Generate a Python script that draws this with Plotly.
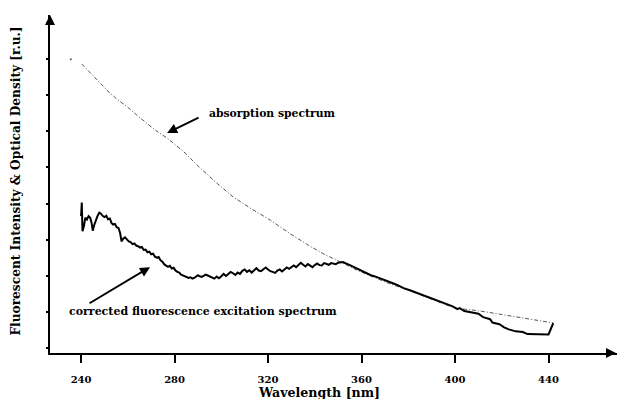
import plotly.graph_objects as go

# Absorption spectrum (optical density, relative units); None leaves the gap after the first dot
abs_wavelength = [235.6, None, 240.3, 245, 251, 255, 260, 264, 268, 272, 277, 284, 291, 298,
                  305, 313, 321, 329, 337, 344, 352, 358, 365, 372, 380, 387, 394, 400,
                  410, 419, 430, 442]
abs_density = [8.69, None, 8.55, 8.20, 7.78, 7.53, 7.27, 7.03, 6.80, 6.58, 6.35, 5.95, 5.47, 5.03,
               4.62, 4.26, 3.93, 3.55, 3.20, 2.92, 2.66, 2.45, 2.25, 2.05, 1.86, 1.66, 1.48, 1.33,
               1.25, 1.15, 1.02, 0.89]

# Corrected fluorescence excitation spectrum (relative units)
flu_wavelength = [240.0, 240.3, 240.6, 241.2, 241.8, 242.5, 243.2, 243.9, 244.5, 245.0,
                  245.6, 246.3, 247.0, 247.8, 248.5, 249.3, 250.0, 250.8, 251.5, 252.3,
                  253.0, 253.7, 254.5, 255.2, 256.0, 256.7, 257.3, 258.0, 258.8, 259.6,
                  260.4, 261.2, 262.0, 262.8, 263.6, 264.4, 265.2, 266.0, 266.8, 267.6,
                  268.4, 269.2, 270.0, 270.8, 271.6, 272.4, 273.2, 274.0, 274.8, 275.6,
                  276.4, 277.2, 278.0, 278.8, 279.6, 280.4, 281.2, 282.0, 282.8, 283.6,
                  284.4, 285.2, 286.0, 286.8, 287.6, 288.4, 289.2, 290.0, 290.8, 291.6,
                  292.4, 293.2, 294, 295, 296, 297, 298, 299, 300, 301, 302, 303, 304,
                  305, 306, 307, 308, 309, 310, 311, 312, 313, 314, 315, 316, 317, 318,
                  319, 320, 321, 322, 323, 324, 325, 326, 327, 328, 329, 330, 331, 332,
                  333, 334, 335, 336, 337, 338, 339, 340, 341, 342, 343, 344, 345, 346,
                  347, 348, 349, 350, 351, 352, 355, 358, 361, 364, 366, 369, 372, 375,
                  378, 381, 384, 387, 390, 393, 396, 399, 401, 402, 404, 407, 410, 412,
                  415, 416, 419, 421, 423, 426, 429, 431, 434, 437, 440, 442]
flu_intensity = [4.05, 4.45, 3.60, 3.75, 4.00, 3.95, 4.05, 4.00, 3.85, 3.62,
                 3.78, 3.95, 4.05, 4.15, 4.12, 4.05, 4.02, 4.06, 3.96, 3.98,
                 3.85, 3.80, 3.82, 3.72, 3.70, 3.55, 3.30, 3.38, 3.42, 3.36,
                 3.30, 3.28, 3.22, 3.24, 3.18, 3.16, 3.12, 3.14, 3.05, 3.06,
                 2.98, 3.00, 2.92, 2.94, 2.85, 2.82, 2.84, 2.74, 2.70, 2.62,
                 2.58, 2.55, 2.58, 2.50, 2.52, 2.44, 2.40, 2.38, 2.32, 2.30,
                 2.27, 2.26, 2.22, 2.24, 2.20, 2.22, 2.26, 2.30, 2.27, 2.25,
                 2.28, 2.32, 2.30, 2.26, 2.22, 2.20, 2.26, 2.21, 2.27, 2.34, 2.28, 2.35, 2.40,
                 2.36, 2.31, 2.38, 2.34, 2.43, 2.47, 2.40, 2.45, 2.38, 2.46, 2.51, 2.44, 2.42, 2.48,
                 2.53, 2.47, 2.42, 2.40, 2.37, 2.44, 2.47, 2.41, 2.48, 2.53, 2.49, 2.53, 2.59, 2.54,
                 2.61, 2.67, 2.61, 2.56, 2.63, 2.59, 2.54, 2.60, 2.65, 2.60, 2.59, 2.66, 2.63, 2.61,
                 2.66, 2.64, 2.63, 2.67, 2.68, 2.69, 2.60, 2.50, 2.42, 2.30, 2.26, 2.19, 2.10, 2.02,
                 1.92, 1.85, 1.77, 1.68, 1.60, 1.52, 1.44, 1.38, 1.30, 1.33, 1.24, 1.20, 1.16, 1.06,
                 1.00, 0.90, 0.85, 0.76, 0.70, 0.64, 0.62, 0.56, 0.55, 0.55, 0.55, 0.88]

x_ticks = [240, 280, 320, 360, 400, 440]

FONT = "DejaVu Serif"

fig = go.Figure()
fig.add_trace(go.Scatter(
    x=abs_wavelength, y=abs_density, mode="lines",
    line=dict(color="#555555", width=1, dash="4px,2px,1px,2px"),
    connectgaps=False, showlegend=False, hoverinfo="skip"))
# lone first point of the absorption record
fig.add_trace(go.Scatter(
    x=abs_wavelength[:1], y=abs_density[:1], mode="markers",
    marker=dict(color="#555555", size=2), showlegend=False, hoverinfo="skip"))
fig.add_trace(go.Scatter(
    x=flu_wavelength, y=flu_intensity, mode="lines",
    line=dict(color="black", width=2),
    showlegend=False, hoverinfo="skip"))

ann = []
# arrows pointing at each curve
ann.append(dict(x=276.8, y=6.51, xref="x", yref="y", text="", showarrow=True,
                ax=33, ay=-16, arrowhead=2, arrowsize=1, arrowwidth=2, arrowcolor="black"))
ann.append(dict(x=269.5, y=2.54, xref="x", yref="y", text="", showarrow=True,
                ax=-62, ay=37, arrowhead=2, arrowsize=1, arrowwidth=2, arrowcolor="black"))
# curve labels
ann.append(dict(x=293.9, y=7.10, xref="x", yref="y", text="absorption spectrum",
                showarrow=False, xanchor="left", yanchor="middle",
                font=dict(family=FONT, size=10.8, color="black", weight="bold")))
ann.append(dict(x=234.0, y=1.24, xref="x", yref="y",
                text="corrected fluorescence excitation spectrum",
                showarrow=False, xanchor="left", yanchor="middle",
                font=dict(family=FONT, size=11, color="black", weight="bold")))
# axis titles
ann.append(dict(x=-0.060, y=0.51, xref="paper", yref="paper", textangle=-90,
                text="Fluorescent Intensity & Optical Density [r.u.]", showarrow=False,
                xanchor="center", yanchor="middle",
                font=dict(family=FONT, size=12.2, color="black", weight="bold")))
ann.append(dict(x=0.474, y=-0.118, xref="paper", yref="paper",
                text="Wavelength [nm]", showarrow=False,
                xanchor="center", yanchor="middle",
                font=dict(family=FONT, size=12.6, color="black", weight="bold")))
# arrowheads at the ends of the axes
ann.append(dict(x=1, y=0, xref="paper", yref="paper", text="", showarrow=True,
                ax=-8, ay=0, arrowhead=2, arrowsize=1, arrowwidth=2, arrowcolor="black"))
ann.append(dict(x=0, y=1, xref="paper", yref="paper", text="", showarrow=True,
                ax=0, ay=8, arrowhead=2, arrowsize=1, arrowwidth=2, arrowcolor="black"))

fig.update_layout(
    width=617, height=399,
    margin=dict(l=50, r=0, t=15, b=46),
    paper_bgcolor="white", plot_bgcolor="white",
    annotations=ann,
    xaxis=dict(range=[226.7, 469.3], tickvals=x_ticks, ticks="outside", ticklen=8,
               tickwidth=2, tickcolor="black", showline=True, linewidth=2,
               linecolor="black", showgrid=False, zeroline=False,
               ticklabelstandoff=8,
               tickfont=dict(family=FONT, size=10, color="black", weight="bold")),
    yaxis=dict(range=[0, 10], showticklabels=False, ticks="outside", ticklen=2,
               tick0=1.21, dtick=1.07, tickwidth=1.5, tickcolor="black",
               showline=True, linewidth=2, linecolor="black",
               showgrid=False, zeroline=False),
)

fig.write_html("out.html")
